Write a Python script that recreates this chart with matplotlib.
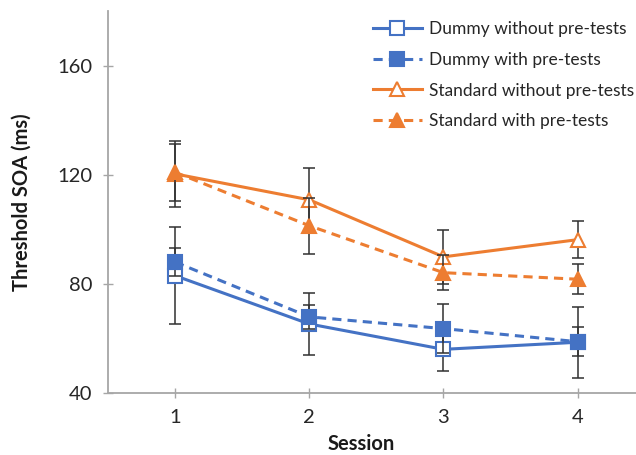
import numpy as np
import matplotlib.pyplot as plt

plt.rcParams['font.family'] = ['Lato', 'DejaVu Sans']

#=====data
sessions = [1, 2, 3, 4]
dummy_without = [83.0, 65.3, 56.0, 58.6]
dummy_without_err = [17.7, 11.5, 8.0, 13.0]
dummy_with = [88.0, 67.9, 63.6, 58.8]
dummy_with_err = [5.0, 4.3, 8.9, 5.3]
std_without = [120.3, 110.8, 89.9, 96.2]
std_without_err = [12.2, 11.6, 9.8, 6.9]
std_with = [120.9, 101.3, 84.1, 81.7]
std_with_err = [10.4, 10.2, 6.4, 5.5]

blue = '#4472C4'
orange = '#ED7D31'
grey = '#A6A6A6'

W, H = 636, 455
fig = plt.figure(figsize=(W/100, H/100), dpi=100)
ax = fig.add_axes([108/W, (H-393)/H, (W-108)/W, (393-11)/H])

series = [
    (dummy_without, dummy_without_err, blue, '-', 's', 'white', 'Dummy without pre-tests'),
    (dummy_with, dummy_with_err, blue, '--', 's', blue, 'Dummy with pre-tests'),
    (std_without, std_without_err, orange, '-', '^', 'white', 'Standard without pre-tests'),
    (std_with, std_with_err, orange, '--', '^', orange, 'Standard with pre-tests'),
]

handles = []
z = 2
for vals, err, col, ls, mk, fc, lab in series:
    ax.errorbar(sessions, vals, yerr=err, fmt='none', ecolor='#303030',
                elinewidth=1.1, capsize=4.5, capthick=1.1, zorder=z)
    ln, = ax.plot(sessions, vals, color=col, linestyle=ls, linewidth=2.2,
                  marker=mk, markersize=10.5, markerfacecolor=fc,
                  markeredgecolor=col, markeredgewidth=1.5, label=lab,
                  dashes=(3, 2) if ls == '--' else (None, None), zorder=z + 1)
    handles.append(ln)
    z += 2

ax.set_xlim(0.5, 0.5 + (W-108)/134.2)
ax.set_ylim(40, 180)
ax.set_xticks(sessions)
ax.set_yticks([40, 80, 120, 160])
ax.tick_params(direction='inout', length=7, width=1, color=grey,
               labelsize=14.5, labelcolor='#262626')
ax.tick_params(axis='x', pad=8)
ax.tick_params(axis='y', pad=8)
for s in ['top', 'right']:
    ax.spines[s].set_visible(False)
for s in ['left', 'bottom']:
    ax.spines[s].set_color(grey)
    ax.spines[s].set_linewidth(1.3)

fig.text(22/W, 1-202/H, 'Threshold SOA (ms)', rotation=90, ha='center',
         va='center', fontsize=14.5, fontweight='bold', color='#1a1a1a')
fig.text(361.5/W, 1-444/H, 'Session', ha='center', va='center',
         fontsize=14.5, fontweight='bold', color='#1a1a1a')

leg = ax.legend(handles=handles, loc='upper left', bbox_to_anchor=(373/W, 1-21/H),
                bbox_transform=fig.transFigure, frameon=False, fontsize=12.5,
                handlelength=2.8, handletextpad=0.4, labelspacing=0.85,
                borderaxespad=0, borderpad=0)
for t in leg.get_texts():
    t.set_color('#262626')

fig.savefig('out.png', dpi=100)
